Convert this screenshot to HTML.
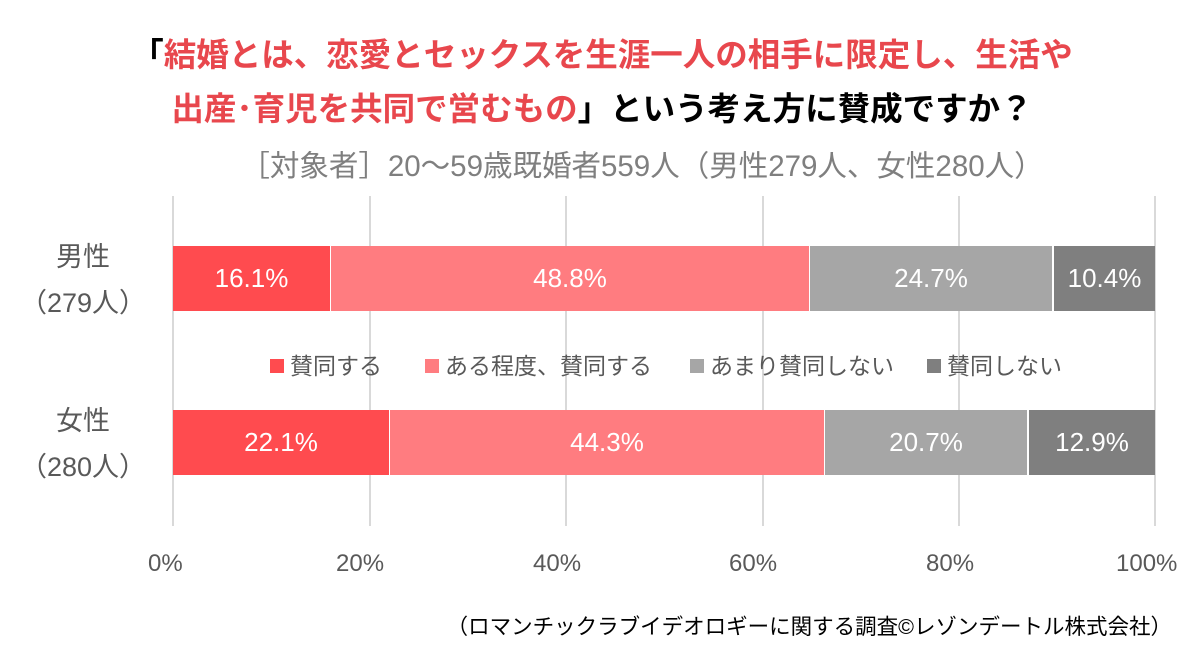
<!DOCTYPE html>
<html><head><meta charset="utf-8"><style>
body{margin:0;width:1204px;height:645px;background:#fff;position:relative;overflow:hidden;font-family:"Liberation Sans","Noto Sans CJK JP",sans-serif}
.a{position:absolute;white-space:nowrap}
.g{position:absolute;top:196px;width:2px;height:330px;background:#d9d9d9}
.s{position:absolute;height:65px;color:#fff;font-size:26px;display:flex;align-items:center;justify-content:center}
.t{font-weight:bold;font-size:32.5px;color:#000}
.r{color:#e8474d}
.x{font-size:24px;color:#595959;top:550px}
.lg{top:347px;font-size:23px;color:#595959}
.sq{display:inline-block;width:14px;height:14px;margin-right:6px;vertical-align:1px}
</style></head><body>
<div class="a t" style="left:0;width:1204px;text-align:center;top:29px">「<span class="r">結婚とは、恋愛とセックスを生涯一人の相手に限定し、生活や</span></div>
<div class="a t" style="left:0;width:1204px;text-align:center;top:83px"><span class="r">出産･育児を共同で営むもの</span>」という考え方に賛成ですか？</div>
<div class="a" style="left:0;width:1284px;text-align:center;top:143px;font-size:29.5px;color:#7f7f7f">［対象者］20～59歳既婚者559人（男性279人、女性280人）</div>
<div class="g" style="left:172px"></div><div class="g" style="left:369px"></div><div class="g" style="left:565px"></div><div class="g" style="left:762px"></div><div class="g" style="left:958px"></div><div class="g" style="left:1154px"></div>
<div class="s" style="left:173px;width:157px;top:246px;background:#ff4b4f">16.1%</div>
<div class="s" style="left:331px;width:478px;top:246px;background:#ff7c80">48.8%</div>
<div class="s" style="left:810px;width:242px;top:246px;background:#a6a6a6">24.7%</div>
<div class="s" style="left:1054px;width:101px;top:246px;background:#7f7f7f">10.4%</div>
<div class="s" style="left:173px;width:216px;top:410px;background:#ff4b4f">22.1%</div>
<div class="s" style="left:390px;width:434px;top:410px;background:#ff7c80">44.3%</div>
<div class="s" style="left:825px;width:202px;top:410px;background:#a6a6a6">20.7%</div>
<div class="s" style="left:1029px;width:126px;top:410px;background:#7f7f7f">12.9%</div>
<div class="a" style="left:8px;width:150px;text-align:center;top:234px;font-size:27px;color:#595959;line-height:46px">男性<br>（279人）</div>
<div class="a" style="left:8px;width:150px;text-align:center;top:398px;font-size:27px;color:#595959;line-height:46px">女性<br>（280人）</div>
<div class="a lg" style="left:270px"><span class="sq" style="background:#ff4b4f"></span>賛同する</div>
<div class="a lg" style="left:425px"><span class="sq" style="background:#ff7c80"></span>ある程度、賛同する</div>
<div class="a lg" style="left:690px"><span class="sq" style="background:#a6a6a6"></span>あまり賛同しない</div>
<div class="a lg" style="left:927px"><span class="sq" style="background:#7f7f7f"></span>賛同しない</div>
<div class="a x" style="left:148px">0%</div>
<div class="a x" style="left:336px">20%</div>
<div class="a x" style="left:533px">40%</div>
<div class="a x" style="left:729px">60%</div>
<div class="a x" style="left:926px">80%</div>
<div class="a x" style="left:1116px">100%</div>
<div class="a" style="right:32px;top:610px;font-size:21.5px;color:#000">（ロマンチックラブイデオロギーに関する調査©レゾンデートル株式会社）</div>
</body></html>
